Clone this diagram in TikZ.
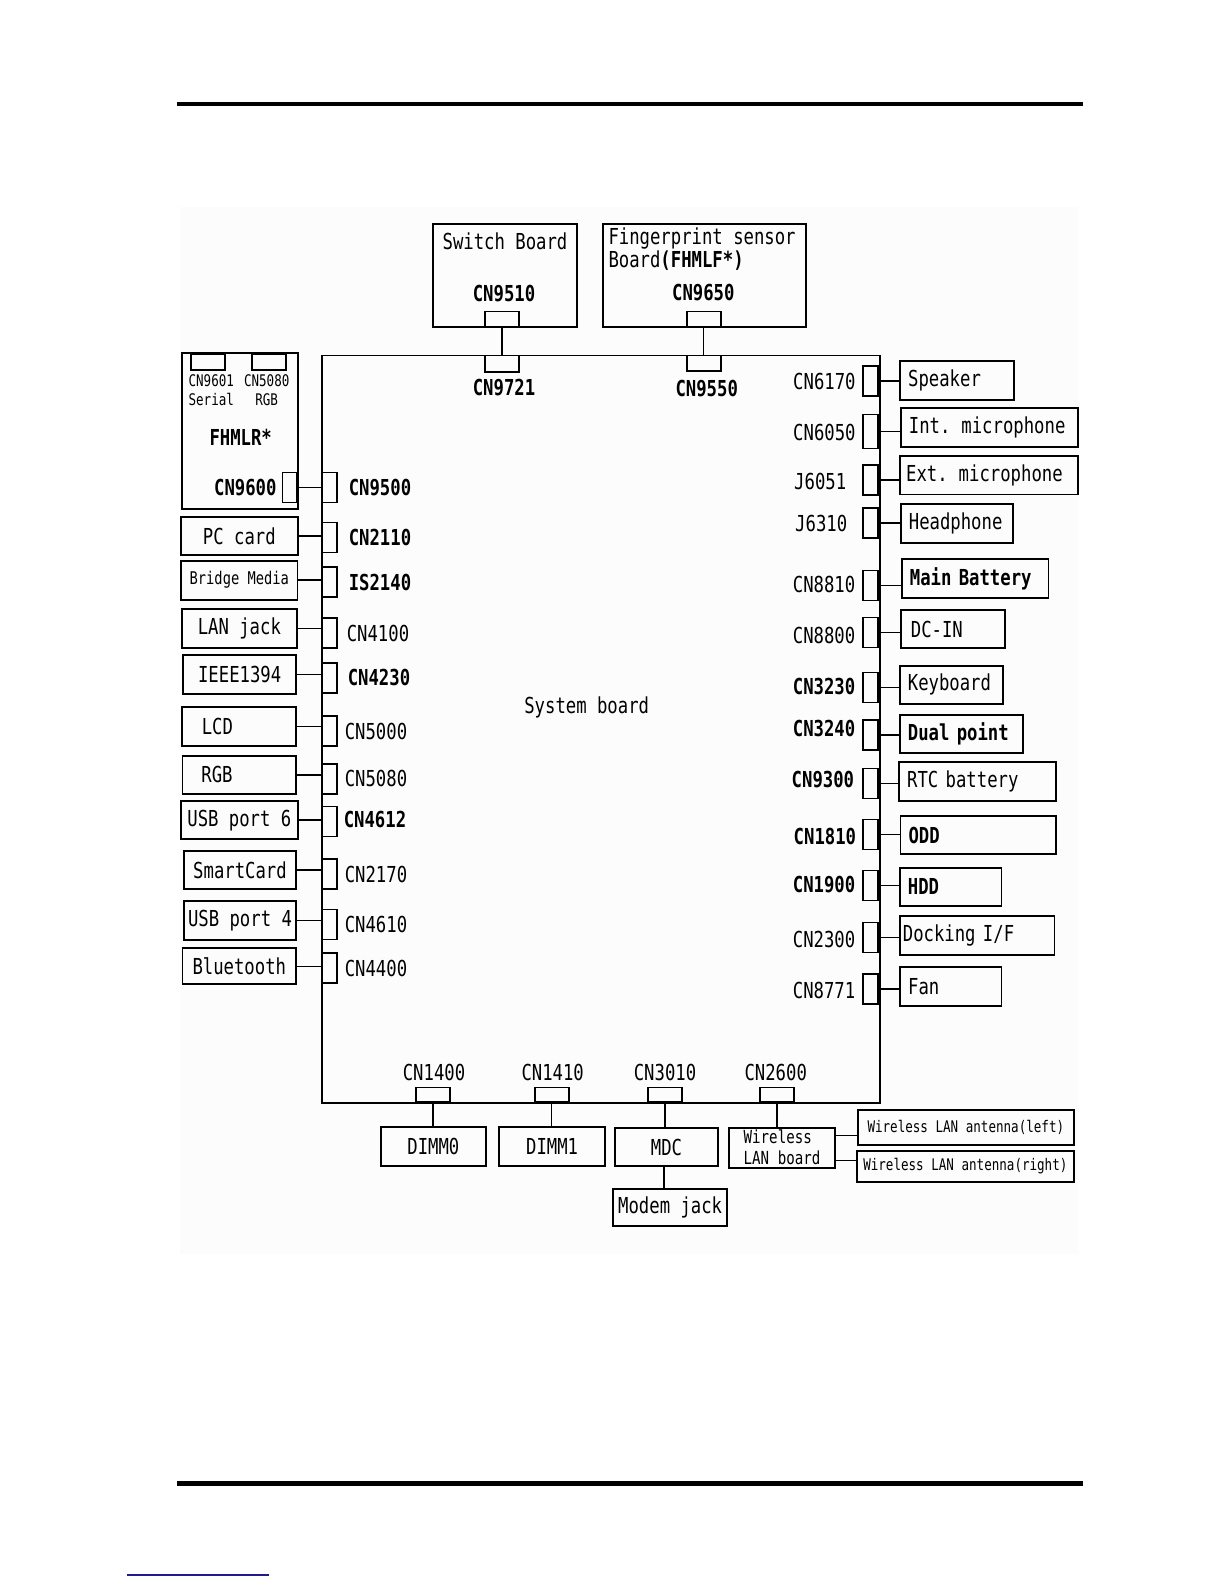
\documentclass[tikz,border=0pt]{standalone}
\usepackage{fontspec}
\usepackage{xcolor}
\usetikzlibrary{positioning}
\newfontfamily\gothic[FakeStretch=0.785]{DejaVu Sans Mono}
\newcommand{\fnorm}{\fontsize{22}{24}\gothic}
\newcommand{\fsmall}{\fontsize{17.5}{20}\gothic}
\newcommand{\ftiny}{\fontsize{16}{19}\gothic}
\newcommand{\fwlan}{\fontsize{18}{21}\gothic}
\definecolor{RuleNavy}{HTML}{1C1C8A}
\definecolor{ScanGray}{HTML}{FCFCFC}

\begin{document}
\begin{tikzpicture}[x=1pt,y=-1pt,
  every node/.style={inner sep=0pt, font=\fnorm},
  box/.style={draw, line width=1.7pt},
  lbox/.style={box, anchor=east},
  rbox/.style={box, anchor=west, align=left, inner xsep=8pt},
  vstub/.style={draw, line width=1.6pt, minimum width=15pt, minimum height=30pt},
  hstub/.style={draw, line width=1.6pt, minimum width=34pt, minimum height=15pt},
  wire/.style={line width=1.5pt},
  bold/.style={font=\fnorm\bfseries}]
\useasboundingbox (0,0) rectangle (1224,1584);
\fill[ScanGray] (180,207) rectangle (1078,1254);
% page rules
\draw[line width=4pt] (176.7,104) -- (1082.7,104);
\draw[line width=4.5pt] (176.7,1483.3) -- (1082.7,1483.3);
\draw[RuleNavy, line width=1.6pt] (126.7,1575) -- (269.3,1575);

% system board
\node[box, line width=1.9pt, anchor=north west, minimum width=557.7pt, minimum height=747.8pt] (board) at (321,354.5) {};
\node (sysbd) at (586.7,707) {System board};

% top boards
\node[box, minimum width=144pt, minimum height=103.3pt] (swbd) at (505.3,275.65) {};
\node (swtxt) at (505,241.5) {Switch Board};
\node[bold] (t9510) at (504,293.7) {CN9510};
\node[hstub, anchor=south] (s9510) at (502,327.3) {};
\node[hstub, anchor=north, minimum height=16.5pt] (c9721) at (502,354.5) {};
\node[bold] (l9721) at (504,387.7) {CN9721};
\draw[wire] (s9510.south) -- (c9721.north);

\node[box, minimum width=203.6pt, minimum height=103.3pt] (fpbd) at (704.5,275.65) {};
\node[anchor=west] (fptxt) at (608.3,239) {Fingerprint sensor};
\node[anchor=west] (fptxtb) at (608.3,261) {Board{\bfseries(FHMLF*)}};
\node[bold] (t9650) at (703.3,292.3) {CN9650};
\node[hstub, anchor=south] (s9650) at (703.7,327.3) {};
\node[hstub, anchor=north, minimum height=15.5pt] (c9550) at (703.7,354.5) {};
\node[bold] (l9550) at (706.7,388.3) {CN9550};
\draw[wire] (s9650.south) -- (c9550.north);

% FHMLR board
\node[box, minimum width=115.4pt, minimum height=155.7pt] (fhm) at (240,431.15) {};
\node[hstub, anchor=north, minimum height=16pt] (s9601) at (207.85,353.3) {};
\node[hstub, anchor=north, minimum height=16pt] (s5080) at (269.15,353.3) {};
\node[font=\ftiny, align=center] (t9601) at (211.3,390.5) {CN9601\\Serial};
\node[font=\ftiny, align=center] (t5080) at (266.7,390.5) {CN5080\\RGB};
\node[bold] (tfhm) at (240.7,437.7) {FHMLR*};
\node[vstub, anchor=east, minimum width=14.4pt] (s9600) at (297.7,487.5) {};
\node[bold, left=5pt of s9600] (t9600) {CN9600};
\node[vstub, anchor=west] (c9500) at (321,487.5) {};
\node[bold, right=11pt of c9500] (l9500) {CN9500};
\draw[wire] (s9600.east) -- (c9500.west);

% left side devices
\node[lbox, minimum width=117pt, minimum height=38.3pt] (pcc) at (298.7,535.85) {PC card};
\node[lbox, font=\fsmall, minimum width=116.3pt, minimum height=39pt] (bmed) at (298.3,580.2) {Bridge Media};
\node[lbox, minimum width=115pt, minimum height=38.7pt] (lan) at (297.7,628.65) {LAN jack};
\node[lbox, minimum width=113pt, minimum height=38.4pt] (ieee) at (297,674.5) {IEEE1394};
\node[lbox, align=left, inner xsep=20pt, text width=74.3pt, minimum height=38.4pt] (lcd) at (297,726.5) {LCD};
\node[lbox, align=left, inner xsep=19pt, text width=75.7pt, minimum height=38.3pt] (rgb) at (297,774.85) {RGB};
\node[lbox, minimum width=117pt, minimum height=38.3pt] (usb6) at (298.7,820.15) {USB port 6};
\node[lbox, minimum width=112.3pt, minimum height=38.3pt] (smc) at (297,870.15) {SmartCard};
\node[lbox, minimum width=112.3pt, minimum height=38.7pt] (usb4) at (297,920.65) {USB port 4};
\node[lbox, minimum width=113.7pt, minimum height=36pt] (bt) at (297,966.3) {Bluetooth};

\node[vstub, anchor=west] (c2110) at (321,537.5) {};
\node[vstub, anchor=west] (c2140) at (321,582) {};
\node[vstub, anchor=west] (c4100) at (321,633.15) {};
\node[vstub, anchor=west] (c4230) at (321,677.85) {};
\node[vstub, anchor=west] (c5000) at (321,731) {};
\node[vstub, anchor=west] (c5080) at (321,778.8) {};
\node[vstub, anchor=west] (c4612) at (321,821.35) {};
\node[vstub, anchor=west] (c2170) at (321,874.15) {};
\node[vstub, anchor=west] (c4610) at (321,924.5) {};
\node[vstub, anchor=west] (c4400) at (321,968) {};

\node[bold, right=11pt of c2110] (l2110) {CN2110};
\node[bold, right=11pt of c2140] (l2140) {IS2140};
\node[right=9pt of c4100] (l4100) {CN4100};
\node[bold, right=10pt of c4230] (l4230) {CN4230};
\node[right=7pt of c5000] (l5000) {CN5000};
\node[right=7pt of c5080] (l5080) {CN5080};
\node[bold, right=6pt of c4612, yshift=1.5pt] (l4612) {CN4612};
\node[right=7pt of c2170] (l2170) {CN2170};
\node[right=7pt of c4610] (l4610) {CN4610};
\node[right=7pt of c4400] (l4400) {CN4400};

\foreach \dev/\con in {pcc/c2110, bmed/c2140, lan/c4100, ieee/c4230, lcd/c5000,
    rgb/c5080, usb6/c4612, smc/c2170, usb4/c4610, bt/c4400}
  \draw[wire] (\dev.east) -- (\dev.east -| \con.west);

% right side devices
\node[rbox, text width=98pt, minimum height=39pt] (spk) at (899.3,380.8) {Speaker};
\node[rbox, text width=161.3pt, minimum height=39pt] (imic) at (900,427.8) {Int. microphone};
\node[rbox, inner xsep=6pt, text width=166pt, minimum height=38.3pt] (emic) at (899.3,475.2) {Ext. microphone};
\node[rbox, text width=96.3pt, minimum height=38.7pt] (hph) at (900,523.3) {Headphone};
\node[rbox, bold, text width=130.7pt, minimum height=38.4pt] (mbat) at (901,578.5) {Main Battery};
\node[rbox, inner xsep=10pt, text width=84pt, minimum height=38pt] (dcin) at (900,629) {DC-IN};
\node[rbox, text width=87.3pt, minimum height=38.3pt] (kbd) at (899,684.8) {Keyboard};
\node[rbox, bold, text width=107pt, minimum height=38.3pt] (dpt) at (899,733.8) {Dual point};
\node[rbox, text width=140.7pt, minimum height=39pt] (rtc) at (898.3,781.2) {RTC battery};
\node[rbox, bold, text width=139.6pt, minimum height=38pt] (odd) at (899.7,835) {ODD};
\node[rbox, bold, text width=85.7pt, minimum height=38.3pt] (hdd) at (899,886.8) {HDD};
\node[rbox, inner xsep=3pt, text width=148.7pt, minimum height=38.7pt] (dock) at (899,935.3) {Docking I/F};
\node[rbox, text width=85.4pt, minimum height=39pt] (fan) at (899.3,986.2) {Fan};

\node[vstub, anchor=east] (c6170) at (878.7,380.85) {};
\node[vstub, anchor=east, minimum height=34pt] (c6050) at (878.7,431.5) {};
\node[vstub, anchor=east] (c6051) at (878.7,479.85) {};
\node[vstub, anchor=east] (c6310) at (878.7,522.8) {};
\node[vstub, anchor=east] (c8810) at (878.7,585.35) {};
\node[vstub, anchor=east] (c8800) at (878.7,632.3) {};
\node[vstub, anchor=east] (c3230) at (878.7,687.5) {};
\node[vstub, anchor=east] (c3240) at (878.7,735) {};
\node[vstub, anchor=east] (c9300) at (878.7,783.5) {};
\node[vstub, anchor=east] (c1810) at (878.7,834.65) {};
\node[vstub, anchor=east] (c1900) at (878.7,885.5) {};
\node[vstub, anchor=east] (c2300) at (878.7,937.5) {};
\node[vstub, anchor=east] (c8771) at (878.7,988.8) {};

\node[anchor=west] (l6170) at (793,381.7) {CN6170};
\node[anchor=west] (l6050) at (793,432.3) {CN6050};
\node[anchor=west] (l6051) at (794,481) {J6051};
\node[anchor=west] (l6310) at (795,523.3) {J6310};
\node[anchor=west] (l8810) at (792.7,584.3) {CN8810};
\node[anchor=west] (l8800) at (792.7,635) {CN8800};
\node[bold, anchor=west] (l3230) at (792.7,686.7) {CN3230};
\node[bold, anchor=west] (l3240) at (792.7,728.7) {CN3240};
\node[bold, anchor=west] (l9300) at (791.5,779.3) {CN9300};
\node[bold, anchor=west] (l1810) at (793.5,836) {CN1810};
\node[bold, anchor=west] (l1900) at (792.7,885) {CN1900};
\node[anchor=west] (l2300) at (792.7,939.3) {CN2300};
\node[anchor=west] (l8771) at (792.7,990) {CN8771};

\foreach \con/\dev in {c6170/spk, c6050/imic, c6051/emic, c6310/hph, c8810/mbat,
    c8800/dcin, c3230/kbd, c3240/dpt, c9300/rtc, c1810/odd, c1900/hdd,
    c2300/dock, c8771/fan}
  \draw[wire] (\con.east) -- (\con.east -| \dev.west);

% bottom devices
\node[hstub, anchor=south, minimum height=14pt] (c1400) at (433,1102.3) {};
\node[hstub, anchor=south, minimum height=14pt] (c1410) at (551.7,1102.3) {};
\node[hstub, anchor=south, minimum height=14pt] (c3010) at (665,1102.3) {};
\node[hstub, anchor=south, minimum height=14pt] (c2600) at (777,1102.3) {};
\node (l1400) at (434,1072) {CN1400};
\node (l1410) at (552.7,1072) {CN1410};
\node (l3010) at (665,1072.5) {CN3010};
\node (l2600) at (775.7,1072) {CN2600};

\node[box, minimum width=105.3pt, minimum height=39pt] (dimm0) at (433.35,1146.5) {DIMM0};
\node[box, minimum width=105.7pt, minimum height=39pt] (dimm1) at (552.15,1146.5) {DIMM1};
\node[box, minimum width=103pt, minimum height=37.7pt] (mdc) at (666.5,1147.15) {MDC};
\node[box, minimum width=113.7pt, minimum height=36.7pt] (mjack) at (670.15,1207.35) {Modem jack};
\node[box, font=\fwlan, align=left, minimum width=105.4pt, minimum height=40pt] (wlan) at (782,1147.7) {Wireless\\LAN board};
\node[box, font=\ftiny, minimum width=216.3pt, minimum height=34.4pt] (antl) at (965.85,1127.5) {Wireless LAN antenna(left)};
\node[box, font=\ftiny, minimum width=217.3pt, minimum height=31pt] (antr) at (965.35,1166.2) {Wireless LAN antenna(right)};

\foreach \con/\dev in {c1400/dimm0, c1410/dimm1, c3010/mdc, c2600/wlan}
  \draw[wire] (\con.south) -- (\con.south |- \dev.north);
\draw[wire] (mdc.south -| 664,0) -- (mjack.north -| 664,0);
\draw[wire] ([yshift=12pt]wlan.east) -- ([yshift=12pt]wlan.east -| antl.west);
\draw[wire] ([yshift=-13pt]wlan.east) -- ([yshift=-13pt]wlan.east -| antr.west);
\end{tikzpicture}
\end{document}
